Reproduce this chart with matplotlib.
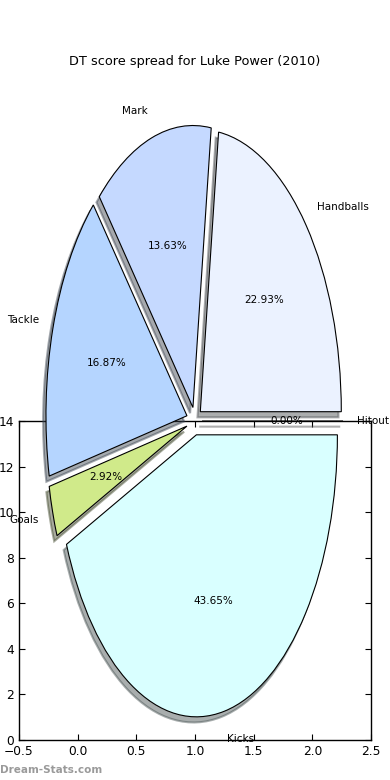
import numpy as np
import matplotlib
matplotlib.use("Agg")
import matplotlib.pyplot as plt
from matplotlib.patches import Wedge

# ---------- Data ----------
labels = ['Handballs', 'Mark', 'Tackle', 'Goals', 'Kicks', 'Hitout']
shares = [22.93, 13.63, 16.87, 2.92, 43.65, 0.00]
colors = ['#ebf2ff', '#c5d9ff', '#b5d5ff', '#d0ea8a', '#d9ffff', '#ffffff']
explode = [0.05, 0.05, 0.06, 0.06, 0.05, 0.05]

x_ticks = [-0.5, 0.0, 0.5, 1.0, 1.5, 2.0, 2.5]
y_ticks = [0, 2, 4, 6, 8, 10, 12, 14]

W, H = 390, 780
fig = plt.figure(figsize=(W / 100, H / 100), dpi=100, facecolor='white')

# ---------- leftover empty axes underneath ----------
ax0 = fig.add_axes([19 / W, 40 / H, 352 / W, 319 / H])
ax0.set_xlim(-0.5, 2.5)
ax0.set_ylim(0, 14)
ax0.set_xticks(x_ticks)
ax0.set_yticks(y_ticks)
ax0.tick_params(direction='in', top=True, right=True, length=4, labelsize=8.8)
for s in ax0.spines.values():
    s.set_linewidth(1.0)

# ---------- pie axes over the whole figure ----------
cx, cy = 195, 421          # pie centre in pixels (from top)
rx, ry = 141, 282          # radius in pixels
ax = fig.add_axes([0, 0, 1, 1])
ax.axis('off')

wedges, texts, autotexts = ax.pie(
    shares, labels=labels, colors=colors, explode=explode,
    autopct='%1.2f%%', startangle=0, labeldistance=1.1, pctdistance=0.6,
    wedgeprops=dict(edgecolor='black', linewidth=0.8),
    textprops=dict(fontsize=7.5))
ax.set_aspect('auto')
ax.set_xlim(-cx / rx, (W - cx) / rx)
ax.set_ylim(-(H - cy) / ry, cy / ry)

# shadows: grey copies shifted down-left
for w in wedges:
    c = 0.3 * np.array(matplotlib.colors.to_rgb(w.get_facecolor()))
    sh = Wedge((w.center[0] - 0.02, w.center[1] - 0.02), w.r, w.theta1, w.theta2,
               facecolor=c, edgecolor=c, alpha=0.45, linewidth=1.5,
               zorder=w.get_zorder() - 0.5)
    ax.add_patch(sh)

for t in texts:
    t.set_ha('left' if t.get_position()[0] > 0 else 'right')

fig.text(0.5, 1 - 61 / H, 'DT score spread for Luke Power (2010)',
         ha='center', va='center', fontsize=9.3)
fig.text(0.0, 1 - 770 / H, 'Dream-Stats.com', ha='left', va='center',
         fontsize=7.5, color='#9a9a9a', fontweight='bold')

fig.savefig('out.png', dpi=100, facecolor='white')
